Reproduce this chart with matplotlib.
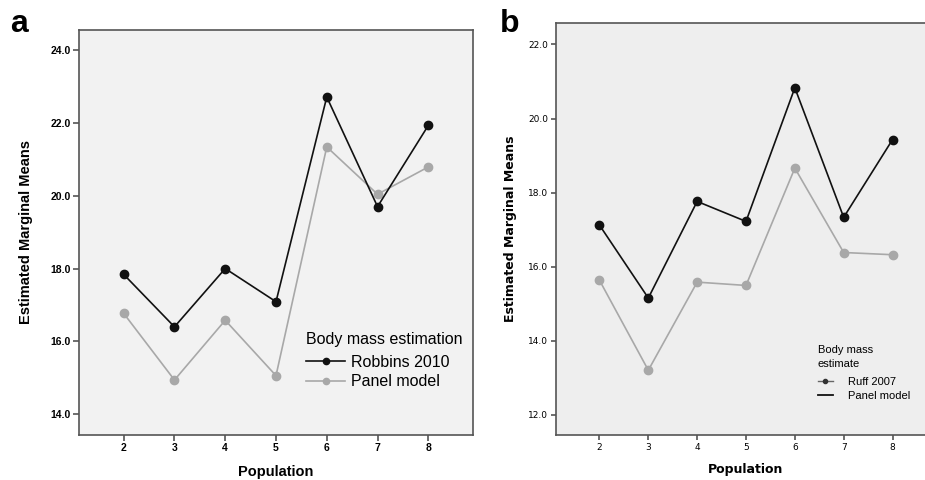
import matplotlib
matplotlib.use("Agg")
import matplotlib.pyplot as plt
from matplotlib.lines import Line2D

# Data
populations = [2, 3, 4, 5, 6, 7, 8]

# panel a
robbins_2010 = [17.84, 16.40, 18.00, 17.09, 22.71, 19.70, 21.93]
panel_model_a = [16.77, 14.94, 16.58, 15.06, 21.34, 20.04, 20.79]
yticks_a = [14.0, 16.0, 18.0, 20.0, 22.0, 24.0]

# panel b
ruff_2007 = [17.12, 15.15, 17.76, 17.22, 20.83, 17.33, 19.43]
panel_model_b = [15.63, 13.20, 15.58, 15.49, 18.66, 16.38, 16.32]
yticks_b = [12.0, 14.0, 16.0, 18.0, 20.0, 22.0]

BLACK = "#111111"
GREY = "#a8a8a8"
SPINE = "#555555"

fig = plt.figure(figsize=(9.25, 4.8), dpi=100)

# ---------------- panel a ----------------
ax_a = fig.add_axes([79 / 925, 45 / 480, 394 / 925, 405 / 480])
ax_a.set_facecolor("#f2f2f2")
ax_a.plot(populations, robbins_2010, color=BLACK, lw=1.2, marker="o",
          ms=6, mfc=BLACK, mec=BLACK, label="Robbins 2010", zorder=3)
ax_a.plot(populations, panel_model_a, color=GREY, lw=1.2, marker="o",
          ms=6, mfc=GREY, mec=GREY, label="Panel model", zorder=2)
ax_a.set_xlim(1.12, 8.88)
ax_a.set_ylim(13.43, 24.55)
ax_a.set_xticks(populations)
ax_a.set_yticks(yticks_a)
ax_a.set_yticklabels([f"{v:.1f}" for v in yticks_a])
for lab in ax_a.get_xticklabels() + ax_a.get_yticklabels():
    lab.set_fontfamily("Liberation Sans")
    lab.set_fontweight("bold")
    lab.set_fontsize(7.5)
ax_a.tick_params(direction="out", length=4.5, width=1.2, color=SPINE, pad=1.5)
for sp in ax_a.spines.values():
    sp.set_color(SPINE)
    sp.set_linewidth(1.2)
ax_a.set_ylabel("Estimated Marginal Means", fontfamily="Liberation Sans",
                fontweight="bold", fontsize=10.5)
ax_a.set_xlabel("Population", fontfamily="Liberation Sans",
                fontweight="bold", fontsize=10.5)
ax_a.yaxis.set_label_coords(-0.117, 0.5)
ax_a.xaxis.set_label_coords(0.5, -0.075)
leg_a = ax_a.legend(loc="upper left", bbox_to_anchor=(0.557, 0.275),
                    title="Body mass estimation", frameon=False,
                    alignment="left", borderpad=0, handlelength=2.4,
                    handletextpad=0.4, labelspacing=0.26, markerscale=0.75,
                    prop={"family": "Liberation Sans", "size": 11.5},
                    title_fontproperties={"family": "Liberation Sans",
                                          "size": 11.5})
# a bit more room between the legend title and the entries
leg_a._legend_box.sep = 6

# ---------------- panel b ----------------
ax_b = fig.add_axes([556 / 925, 45 / 480, 380 / 925, 412 / 480])
ax_b.set_facecolor("#eeeeee")
ax_b.plot(populations, ruff_2007, color=BLACK, lw=1.2, marker="o",
          ms=6, mfc=BLACK, mec=BLACK, zorder=3)
ax_b.plot(populations, panel_model_b, color=GREY, lw=1.2, marker="o",
          ms=6, mfc=GREY, mec=GREY, zorder=2)
ax_b.set_xlim(1.11, 8.89)
ax_b.set_ylim(11.45, 22.58)
ax_b.set_xticks(populations)
ax_b.set_yticks(yticks_b)
ax_b.set_yticklabels([f"{v:.1f}" for v in yticks_b])
for lab in ax_b.get_xticklabels() + ax_b.get_yticklabels():
    lab.set_fontfamily("DejaVu Sans")
    lab.set_fontsize(6.5)
ax_b.tick_params(direction="out", length=3.5, width=1.2, color=SPINE, pad=2)
for sp in ax_b.spines.values():
    sp.set_color(SPINE)
    sp.set_linewidth(1.2)
ax_b.set_ylabel("Estimated Marginal Means", fontfamily="DejaVu Sans",
                fontweight="bold", fontsize=9)
ax_b.set_xlabel("Population", fontfamily="DejaVu Sans",
                fontweight="bold", fontsize=9)
ax_b.yaxis.set_label_coords(-0.103, 0.5)
ax_b.xaxis.set_label_coords(0.5, -0.069)

# legend as drawn in the original figure
handles_b = [
    Line2D([], [], color="#666666", lw=1.0, marker="o", ms=3,
           mfc="#333333", mec="#333333"),
    Line2D([], [], color=BLACK, lw=1.3),
]
leg_b = ax_b.legend(handles_b, ["Ruff 2007", "Panel model"], loc="upper left",
                    bbox_to_anchor=(0.674, 0.232), title="Body mass\nestimate",
                    frameon=False, alignment="left", borderpad=0,
                    handlelength=1.4, handletextpad=1.3, labelspacing=0.38,
                    prop={"family": "Liberation Sans", "size": 8},
                    title_fontproperties={"family": "Liberation Sans",
                                          "size": 8})
leg_b.get_title().set_linespacing(1.45)
leg_b._legend_box.sep = 6

# panel letters
fig.text(10 / 925, 1 - 32 / 480, "a", fontfamily="Liberation Sans",
         fontweight="bold", fontsize=23, va="baseline", ha="left")
fig.text(500 / 925, 1 - 32 / 480, "b", fontfamily="Liberation Sans",
         fontweight="bold", fontsize=23, va="baseline", ha="left")

fig.savefig("out.png", dpi=100, facecolor="white")
